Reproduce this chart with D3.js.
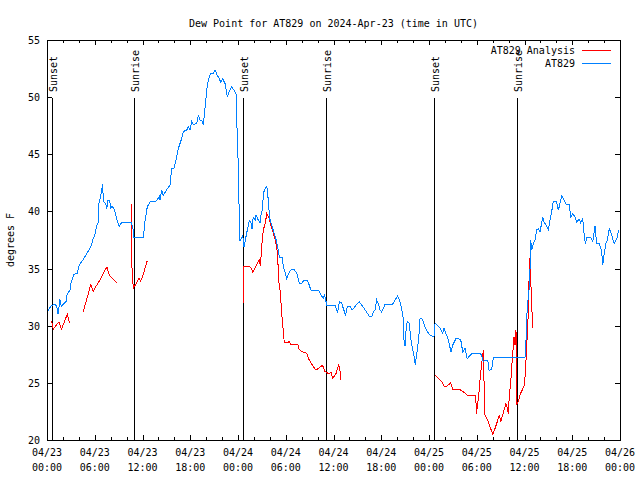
<!DOCTYPE html>
<html>
<head>
<meta charset="utf-8">
<script src="https://cdn.jsdelivr.net/npm/d3@7"></script>
<style>
  html, body { margin: 0; padding: 0; background: #fff; }
  svg { display: block; }
  text { font-family: "DejaVu Sans Mono", "Liberation Mono", monospace; font-size: 10px; fill: #000; }
</style>
</head>
<body>
<svg id="chart" width="640" height="480"></svg>
<script>
// ---- data (hours since 2024-04-23 00:00 UTC, dew point °F) ----
const startTime = Date.UTC(2024, 3, 23, 0, 0);
const titleText = "Dew Point for AT829 on 2024-Apr-23 (time in UTC)";
const yLabel = "degrees F";
const seriesNames = ["AT829 Analysis", "AT829"];
const seriesColors = ["#ff0000", "#0080ff"];
const yTicks = [20, 25, 30, 35, 40, 45, 50, 55];

const obsHours = [0,0.46,0.97,1.22,1.38,1.63,1.80,2.05,2.39,2.55,2.89,2.98,3.39,3.81,3.98,4.23,4.56,4.90,5.24,5.57,5.74,5.99,6.25,6.41,6.53,6.82,7.00,7.07,7.38,7.50,7.67,7.88,8.00,8.17,8.51,8.76,9.09,9.34,10.59,10.77,10.93,12.10,12.31,12.60,13.03,13.70,14.11,14.20,14.41,14.61,15.04,15.46,15.67,15.96,16.21,16.50,16.93,17.13,17.55,17.76,17.97,18.18,18.38,18.81,19.01,19.23,19.44,19.64,19.85,20.07,20.27,20.57,20.90,21.11,21.40,21.65,21.83,22.08,22.37,22.66,22.91,23.21,23.50,23.75,23.84,24.04,24.16,24.25,24.59,24.75,25.09,25.42,25.64,25.76,25.92,26.17,26.26,26.51,26.77,26.89,27.10,27.18,27.43,27.61,27.73,27.86,28.02,28.36,28.69,28.99,29.19,29.53,29.69,29.94,30.12,30.37,30.66,31.07,31.38,31.70,32.04,32.26,32.63,32.88,33.17,34.14,34.43,34.72,34.89,35.15,36.23,36.50,36.73,37.01,37.38,37.51,37.74,38.07,38.29,38.49,38.83,39.24,39.54,39.96,40.25,40.50,40.80,41.00,41.22,41.43,41.63,41.84,42.06,42.26,42.47,43.44,43.73,44.07,44.36,44.57,44.77,44.86,44.99,45.11,45.27,45.53,45.70,45.95,46.12,46.28,46.53,46.71,46.87,47.08,47.28,47.50,47.79,48.04,48.34,48.63,48.76,48.97,49.38,49.72,49.89,50.14,50.43,50.77,50.98,51.40,51.98,52.24,52.53,52.81,53.15,53.49,54.41,54.62,54.82,55.03,55.38,55.54,55.88,56.08,57.84,60.06,60.19,60.35,60.60,60.69,60.78,60.91,61.11,61.32,61.53,61.74,61.95,62.29,62.45,62.70,62.99,63.21,63.42,63.62,63.96,64.12,64.25,64.46,64.68,64.88,65.22,65.63,65.81,66.06,66.35,66.56,66.89,67.06,67.31,67.48,67.64,67.82,68.32,68.57,68.86,69.07,69.40,69.70,69.83,69.99,70.24,70.41,70.66,70.96,71.25,71.59,71.84];
const obsDew = [31.1,31.7,31.9,31.7,31.0,32.3,31.7,31.9,32.1,32.8,33.1,33.7,34.5,34.6,35.2,35.5,35.8,36.2,36.6,37.0,37.5,37.9,38.8,39.0,40.7,41.6,42.4,40.9,40.7,40.2,41.0,41.0,40.2,40.5,40.1,39.3,38.7,39.0,39.0,38.7,37.7,37.7,39.1,40.4,40.9,40.9,41.3,41.0,41.9,41.4,41.9,42.3,43.8,43.8,44.5,45.5,46.4,47.0,47.1,47.4,47.1,47.9,47.6,47.7,48.4,48.0,48.0,47.6,49.0,50.6,51.5,52.1,52.1,52.4,51.9,51.6,51.3,51.6,51.2,50.0,50.5,50.9,50.6,50.3,48.0,43.9,39.5,37.4,37.9,36.9,38.1,39.2,39.0,38.5,39.5,39.25,39.7,39.3,39.0,39.7,40.3,41.6,42.0,42.2,41.6,40.4,39.3,38.5,37.8,36.9,36.0,36.0,35.2,34.6,34.1,34.6,34.9,34.9,34.6,33.7,33.7,34.0,34.0,33.7,33.1,33.1,32.7,32.4,32.7,31.8,31.8,31.1,32.1,32.0,31.2,30.9,31.7,31.7,31.4,31.5,31.8,32.1,31.8,31.4,31.1,30.8,30.8,31.2,31.4,32.25,31.9,31.4,31.2,31.5,31.9,31.9,32.25,32.6,32.1,31.5,30.6,28.75,28.2,29.5,30.4,30.2,28.9,27.9,27.3,26.6,27.9,28.9,30.6,30.6,30.4,29.9,29.5,29.2,29.1,29.1,30.2,30.1,29.8,29.3,29.8,29.3,28.75,27.7,28.3,28.9,28.8,27.7,28.0,27.1,27.4,27.6,27.6,27.4,26.85,27.0,27.0,26.1,26.2,27.2,27.2,27.2,28.75,31.7,33.3,34.9,37.5,36.6,37.2,37.5,38.4,38.5,38.2,39.5,39.1,38.8,38.4,39.25,40.0,40.9,40.9,40.6,40.1,40.7,41.35,41.1,40.65,40.65,39.5,39.8,39.5,39.1,39.3,39.0,39.4,38.1,37.2,37.7,37.7,37.35,38.7,37.2,37.2,36.5,35.3,36.2,37.2,37.5,38.5,37.9,37.2,37.6,38.4];

// analysis series; null marks a gap
const anaHours = [0.57,0.79,1.22,1.51,1.82,2.05,2.35,2.55,2.83,null,
  4.56,4.86,5.15,5.50,5.82,6.12,6.53,6.95,7.38,7.54,7.88,8.86,null,
  10.62,10.68,10.84,11.19,11.56,11.77,12.10,12.60,null,
  24.67,24.70,25.22,25.60,25.85,26.17,26.48,26.68,26.83,26.89,27.01,27.18,27.43,27.61,27.86,28.15,28.44,28.69,28.86,28.99,29.11,29.28,29.40,29.53,29.69,29.82,30.03,30.45,30.66,31.07,31.50,31.70,32.13,32.63,32.88,33.30,33.59,33.80,34.14,34.56,34.72,34.89,35.40,35.69,35.90,36.31,36.65,36.82,36.86,null,
  48.75,49.17,49.60,49.89,50.22,50.73,50.98,51.90,52.53,52.81,53.78,53.91,54.00,54.07,54.20,54.41,54.62,54.75,54.82,54.91,55.03,55.45,55.75,56.00,56.29,56.58,56.83,57.01,57.26,57.67,57.84,57.96,58.09,58.26,58.43,58.68,58.81,58.93,59.02,59.22,59.52,59.94,60.10,60.28,60.48,60.63,60.76,60.88,61.03];
const anaDew = [30.4,29.7,30.1,30.35,29.7,30.1,30.65,31.0,30.2,null,
  31.2,32.0,32.7,33.6,33.0,33.4,33.85,34.4,35.0,35.1,34.35,33.7,null,
  40.65,35.05,33.3,33.65,34.2,33.9,34.5,35.7,null,
  32.0,35.2,35.2,35.1,34.7,35.1,35.5,35.75,35.2,36.0,37.2,38.4,38.96,39.8,39.5,38.7,38.1,37.5,36.9,36.0,34.0,33.1,32.0,30.8,29.5,28.5,28.5,28.6,28.3,28.4,28.4,27.9,27.7,27.6,27.1,26.6,26.3,26.1,26.3,26.5,26.4,26.0,25.8,25.9,25.4,25.8,26.6,26.0,25.25,null,
  25.7,25.4,25.1,24.7,24.7,25.0,24.4,24.4,24.1,23.9,23.9,23.2,22.3,23.1,23.5,25.25,26.7,27.3,27.9,25.25,22.2,21.6,21.0,20.5,21.0,21.6,22.2,21.6,22.2,23.2,22.8,22.3,23.8,25.0,26.7,29.0,28.3,29.6,23.1,23.4,24.1,24.7,25.7,28.2,31.1,35.9,34.4,32.25,29.8];

const sunLabels = ["Sunset", "Sunrise", "Sunset", "Sunrise", "Sunset", "Sunrise"];
const sunHours = [0.59, 10.97, 24.67, 35.10, 48.63, 59.10];

// ---- drawing ----
const svg = d3.select("#chart");
const L = 47, R = 620, T = 40, B = 440;
const toDate = h => new Date(startTime + h * 3600e3);
const x = d3.scaleUtc().domain([toDate(0), toDate(72)]).range([L, R]);
const y = d3.scaleLinear().domain([20, 55]).range([B, T]);

// title
svg.append("text").attr("x", (L + R) / 2).attr("y", 27).attr("text-anchor", "middle").text(titleText);
// y label
svg.append("text").attr("transform", `translate(14,${(T + B) / 2}) rotate(-90)`).attr("text-anchor", "middle").text(yLabel);

const g = svg.append("g").attr("shape-rendering", "crispEdges");

// x ticks: major every 6h, minor every 2h (inward, mirrored)
const minor = d3.utcHour.every(2).range(toDate(0), toDate(72.01));
const major = d3.utcHour.every(6).range(toDate(0), toDate(72.01));
minor.forEach(d => {
  const isMajor = d.getUTCHours() % 6 === 0;
  const len = isMajor ? 5 : 3;
  const px = Math.round(x(d)) + 0.5;
  g.append("line").attr("x1", px).attr("x2", px).attr("y1", B).attr("y2", B - len).attr("stroke", "#000");
  g.append("line").attr("x1", px).attr("x2", px).attr("y1", T).attr("y2", T + len).attr("stroke", "#000");
});
const fmtDate = d3.utcFormat("%m/%d"), fmtTime = d3.utcFormat("%H:%M");
major.forEach(d => {
  const t = svg.append("text").attr("text-anchor", "middle").attr("x", x(d));
  t.append("tspan").attr("x", x(d)).attr("y", 456).text(fmtDate(d));
  t.append("tspan").attr("x", x(d)).attr("y", 471).text(fmtTime(d));
});

// y ticks
yTicks.forEach(v => {
  const py = Math.round(y(v)) + 0.5;
  g.append("line").attr("x1", L).attr("x2", L + 5).attr("y1", py).attr("y2", py).attr("stroke", "#000");
  g.append("line").attr("x1", R).attr("x2", R - 5).attr("y1", py).attr("y2", py).attr("stroke", "#000");
  svg.append("text").attr("x", 40).attr("y", y(v) + 4).attr("text-anchor", "end").text(v);
});

// sunrise / sunset markers
sunHours.forEach((h, i) => {
  const px = Math.round(x(toDate(h))) + 0.5;
  g.append("line").attr("x1", px).attr("x2", px).attr("y1", B).attr("y2", 98).attr("stroke", "#000");
  svg.append("text").attr("transform", `translate(${px + 4},92) rotate(-90)`).attr("text-anchor", "start").text(sunLabels[i]);
});

// series
const anaData = anaHours.map((h, i) => h === null ? null : { t: toDate(h), v: anaDew[i] });
const obsData = obsHours.map((h, i) => ({ t: toDate(h), v: obsDew[i] }));
const line = d3.line().defined(d => d !== null).x(d => x(d.t)).y(d => y(d.v));
g.append("path").datum(anaData).attr("d", line).attr("fill", "none").attr("stroke", seriesColors[0]).attr("stroke-width", 1);
g.append("path").datum(obsData).attr("d", line).attr("fill", "none").attr("stroke", seriesColors[1]).attr("stroke-width", 1);

// frame
g.append("rect").attr("x", L + 0.5).attr("y", T + 0.5).attr("width", R - L).attr("height", B - T)
  .attr("fill", "none").attr("stroke", "#000");

// legend
seriesNames.forEach((name, i) => {
  const ly = 50 + i * 13;
  svg.append("text").attr("x", 575).attr("y", ly + 4).attr("text-anchor", "end").text(name);
  g.append("line").attr("x1", 582).attr("x2", 611).attr("y1", ly + 0.5).attr("y2", ly + 0.5).attr("stroke", seriesColors[i]);
});
</script>
</body>
</html>
